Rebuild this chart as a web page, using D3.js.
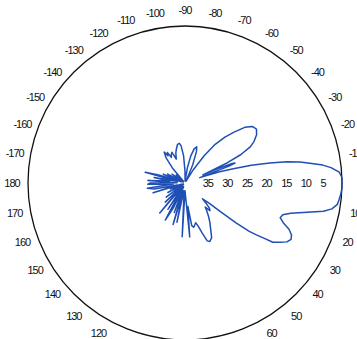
<!DOCTYPE html>
<html>
<head>
<meta charset="utf-8">
<script src="https://cdn.jsdelivr.net/npm/d3@7"></script>
<style>
  html, body { margin: 0; padding: 0; background: #fff; }
  svg { display: block; }
  text { font-family: "Liberation Sans", Arial, sans-serif; font-size: 11px; fill: #111; letter-spacing: -1px; }
</style>
</head>
<body>
<svg id="chart" width="357" height="339"></svg>
<script>
// Measured radiation pattern: angle (deg, clockwise from 0 at the right) and attenuation (dB below peak)
const angles = [
  -180, -178, -176, -173, -170, -167, -165, -163, -161, -158, -156, -153, -150, -146, -142, -138,
  -134, -130, -127, -124, -122, -120, -118, -116, -113, -110, -107, -104, -101, -98, -96, -93,
  -90, -87, -84, -81, -78, -75, -72, -70, -67, -64, -61, -58, -55, -52, -49, -46, -43, -40,
  -37, -34, -31, -29, -27, -25.5, -24.5, -23.5, -22.5, -21.8, -21, -20, -18, -16.5, -15, -13.2,
  -11.8, -10.3, -9, -7.4, -6, -4, -2, 0, 2, 4, 6, 8, 10, 11.5, 14, 16, 18, 20, 22, 24, 26, 28,
  30, 32, 34, 35, 36, 37, 38, 39, 40, 42, 44, 46, 48, 50, 52, 55, 58, 61, 64, 67, 69, 71, 73,
  75, 77, 79, 81, 83, 85, 87, 90, 93, 95, 98, 101.6, 103, 106, 108, 110, 112, 115, 118, 120,
  123, 126, 130, 133, 136, 139, 143, 147, 151, 155, 158, 161, 163, 166, 169, 172, 175, 178, 180
];
const attenuation = [
  31, 38, 30.5, 36, 32, 38, 29.5, 33, 39, 34, 39, 35, 39.5, 36, 39.5, 37,
  39.5, 35, 32, 30.5, 31.8, 31, 32.6, 32, 31.5, 33.5, 32, 31, 30, 29.8, 30.5, 33,
  37, 39.5, 39, 36, 33, 31, 30.3, 31.5, 35, 39, 39.5, 36, 31.5, 27.5, 24.5, 22, 19.2, 17.6,
  17.2, 18, 19.5, 21, 24, 28, 35, 31, 27, 26.3, 28, 36, 31, 27.5, 22.5, 17.8,
  13.5, 10.2, 7.8, 4.6, 2.6, 0.6, 0, 0, 0, 0.2, 0.5, 0.8, 2, 4, 9, 12, 13.8, 14.2, 13, 11, 9.8, 9.4,
  10, 11.5, 13, 15.5, 17.5, 19.5, 23.5, 28.5, 32, 34, 32.5, 31, 30.5, 32, 31, 29.5, 28, 26.5, 24.5, 23.8, 24.2, 26.5, 28.5,
  29.5, 29, 28.5, 29, 34, 26.2, 36, 38, 26.3, 37, 38, 29.8, 37, 29, 38, 32, 39, 33, 29.3, 38,
  32, 39, 30, 38, 33, 39.5, 34, 39.5, 35, 39.5, 36, 39, 31.5, 38, 32, 30.3, 37, 30.5, 31
];

// Angular tick labels every 10 degrees (the 0 label falls past the right edge), radial tick labels in dB
const angleTicks = d3.range(-170, 190, 10).filter(d => d !== 0);
const radialTicks = [35, 30, 25, 20, 15, 10, 5];

const svg = d3.select("#chart");
const cx = 185, cy = 183, R = 157;
const g = svg.append("g").attr("transform", `translate(${cx},${cy})`);

// 40 dB down sits at the centre, 0 dB on the outer ring
const r = d3.scaleLinear().domain([40, 0]).range([0, R]).clamp(true);
const toRad = d => d * Math.PI / 180;

// outer ring
g.append("circle")
  .attr("r", r(0))
  .attr("fill", "none")
  .attr("stroke", "#111")
  .attr("stroke-width", 1.3);

// angle labels around the ring
const labelR = 173;
g.selectAll("text.ang")
  .data(angleTicks)
  .join("text")
  .attr("class", "ang")
  .attr("x", d => labelR * Math.cos(toRad(d)))
  .attr("y", d => labelR * Math.sin(toRad(d)))
  .attr("text-anchor", "middle")
  .attr("dominant-baseline", "central")
  .text(d => d);

// radial labels along the 0 degree direction
g.selectAll("text.rad")
  .data(radialTicks)
  .join("text")
  .attr("class", "rad")
  .attr("x", d => r(d) - 2)
  .attr("y", 0)
  .attr("text-anchor", "start")
  .attr("dominant-baseline", "central")
  .text(d => d);

// pattern trace
const pts = angles.map((a, i) => [a, attenuation[i]]);
const line = d3.lineRadial()
  .angle(d => toRad(d[0] + 90))
  .radius(d => r(d[1]))
  .curve(d3.curveLinear);

g.append("path")
  .datum(pts)
  .attr("d", line)
  .attr("fill", "none")
  .attr("stroke", "#1f4fb5")
  .attr("stroke-width", 1.5)
  .attr("stroke-linejoin", "round");
</script>
</body>
</html>
